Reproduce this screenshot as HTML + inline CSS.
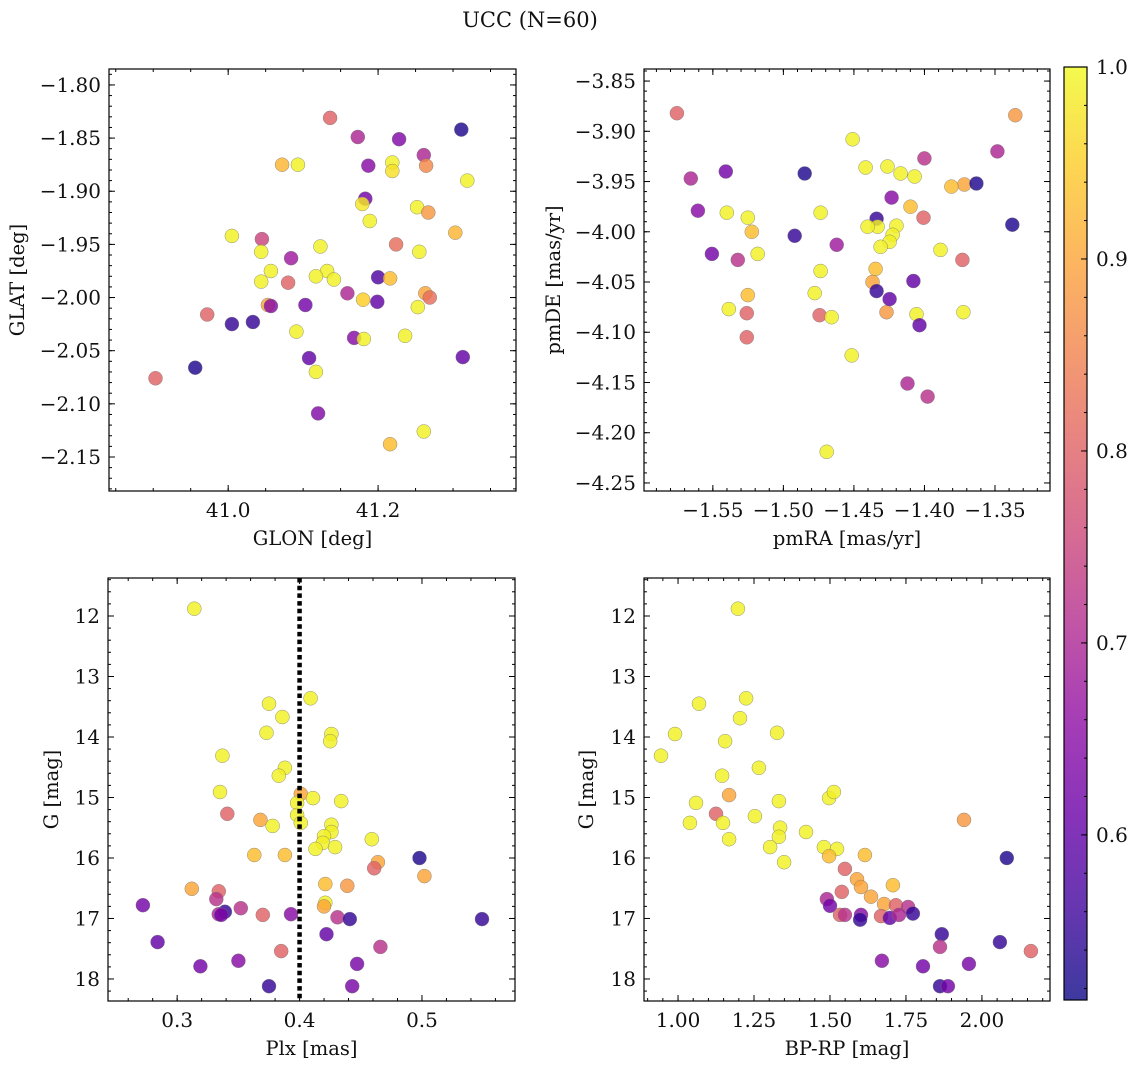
<!DOCTYPE html>
<html><head><meta charset="utf-8"><title>UCC (N=60)</title>
<style>
html,body{margin:0;padding:0;background:#fff;}
svg{display:block;font-family:"DejaVu Serif","Liberation Serif",serif;}
</style></head>
<body>
<svg id="fig" width="1136" height="1068" viewBox="0 0 1136 1068" xmlns="http://www.w3.org/2000/svg">
<defs>
<linearGradient id="plasma" x1="0" y1="1" x2="0" y2="0">
<stop offset="0" stop-color="#0d0887"/><stop offset="0.1" stop-color="#41049d"/><stop offset="0.2" stop-color="#6a00a8"/><stop offset="0.3" stop-color="#8f0da4"/><stop offset="0.4" stop-color="#b12a90"/><stop offset="0.5" stop-color="#cc4778"/><stop offset="0.6" stop-color="#e16462"/><stop offset="0.7" stop-color="#f2844b"/><stop offset="0.8" stop-color="#fca636"/><stop offset="0.9" stop-color="#fcce25"/><stop offset="1" stop-color="#f0f921"/>
</linearGradient>
</defs>
<text x="530" y="27" font-size="21" text-anchor="middle" fill="#111">UCC (N=60)</text>
</svg>
<script>
// ---- Panel 1: GLON / GLAT ----
const p1Glon = [41.136,41.173,41.311,41.228,41.072,41.093,41.187,41.219,41.219,41.261,41.264,41.319,41.183,41.179,41.252,41.267,41.189,41.005,41.045,41.123,41.224,41.303,41.255,41.044,41.084,41.057,41.132,41.117,41.141,41.044,41.080,41.200,41.216,41.159,41.263,41.269,41.053,41.057,41.103,41.180,41.199,41.253,40.972,41.005,41.033,41.091,41.168,41.181,41.236,41.108,41.313,40.956,41.117,40.903,41.120,41.216,41.261];
const p1Glat = [-1.831,-1.849,-1.842,-1.851,-1.875,-1.875,-1.876,-1.873,-1.881,-1.866,-1.876,-1.890,-1.907,-1.912,-1.915,-1.920,-1.928,-1.942,-1.945,-1.952,-1.950,-1.939,-1.957,-1.957,-1.963,-1.975,-1.975,-1.980,-1.983,-1.985,-1.986,-1.981,-1.982,-1.996,-1.996,-2.000,-2.007,-2.008,-2.007,-2.002,-2.004,-2.009,-2.016,-2.025,-2.023,-2.032,-2.038,-2.039,-2.036,-2.057,-2.056,-2.066,-2.070,-2.076,-2.109,-2.138,-2.126];
const p1Prob = [0.80,0.70,0.53,0.64,0.92,0.99,0.65,0.99,0.97,0.70,0.86,0.99,0.62,0.98,0.99,0.88,0.99,0.99,0.75,0.99,0.82,0.92,0.99,0.99,0.68,0.99,0.99,0.99,0.99,0.99,0.80,0.58,0.93,0.70,0.90,0.82,0.90,0.65,0.62,0.95,0.60,0.99,0.80,0.55,0.55,0.99,0.65,0.99,0.99,0.60,0.60,0.53,0.99,0.80,0.64,0.93,0.99];
const p1XTicks = [41.0, 41.2];
const p1XTickLabels = ["41.0","41.2"];
const p1YTicks = [-1.80,-1.85,-1.90,-1.95,-2.00,-2.05,-2.10,-2.15];
const p1YTickLabels = ["\u22121.80","\u22121.85","\u22121.90","\u22121.95","\u22122.00","\u22122.05","\u22122.10","\u22122.15"];

// ---- Panel 2: pmRA / pmDE ----
const p2Pmra = [-1.5755,-1.5656,-1.5408,-1.5606,-1.5401,-1.4849,-1.4509,-1.4736,-1.5252,-1.5224,-1.4920,-1.5323,-1.5507,-1.5182,-1.4622,-1.4417,-1.4262,-1.4169,-1.4233,-1.4000,-1.4070,-1.3717,-1.3809,-1.3632,-1.3356,-1.3483,-1.3377,-1.3886,-1.4099,-1.4007,-1.4339,-1.4332,-1.4198,-1.4226,-1.4247,-1.4311,-1.4403,-1.4346,-1.4368,-1.4339,-1.4269,-1.4247,-1.4078,-1.4056,-1.4035,-1.4120,-1.3978,-1.3724,-1.3731,-1.4778,-1.4736,-1.4743,-1.4658,-1.5387,-1.5259,-1.5252,-1.5259,-1.4516,-1.4693];
const p2Pmde = [-3.882,-3.947,-3.940,-3.979,-3.981,-3.942,-3.908,-3.981,-3.986,-4.000,-4.004,-4.028,-4.022,-4.022,-4.013,-3.936,-3.935,-3.942,-3.966,-3.927,-3.945,-3.953,-3.955,-3.952,-3.884,-3.920,-3.993,-4.018,-3.975,-3.986,-3.987,-3.995,-3.994,-4.003,-4.010,-4.015,-3.995,-4.037,-4.050,-4.059,-4.080,-4.067,-4.049,-4.082,-4.093,-4.151,-4.164,-4.080,-4.028,-4.061,-4.039,-4.083,-4.085,-4.077,-4.081,-4.063,-4.105,-4.123,-4.219];
const p2Prob = [0.80,0.70,0.62,0.65,0.99,0.53,0.99,0.99,0.99,0.93,0.55,0.72,0.62,0.99,0.68,0.99,0.99,0.99,0.65,0.72,0.99,0.90,0.93,0.53,0.88,0.70,0.53,0.99,0.93,0.80,0.55,0.99,0.99,0.99,0.99,0.99,0.99,0.93,0.90,0.55,0.88,0.60,0.60,0.99,0.60,0.70,0.72,0.99,0.80,0.99,0.99,0.80,0.99,0.99,0.80,0.93,0.80,0.99,0.99];
const p2XTicks = [-1.55,-1.50,-1.45,-1.40,-1.35];
const p2XTickLabels = ["\u22121.55","\u22121.50","\u22121.45","\u22121.40","\u22121.35"];
const p2YTicks = [-3.85,-3.90,-3.95,-4.00,-4.05,-4.10,-4.15,-4.20,-4.25];
const p2YTickLabels = ["\u22123.85","\u22123.90","\u22123.95","\u22124.00","\u22124.05","\u22124.10","\u22124.15","\u22124.20","\u22124.25"];

// ---- Panel 3: Plx / G ----
const p3Plx = [0.314,0.375,0.409,0.386,0.373,0.426,0.425,0.337,0.388,0.383,0.401,0.335,0.411,0.398,0.434,0.341,0.398,0.368,0.401,0.378,0.426,0.426,0.420,0.419,0.413,0.429,0.459,0.363,0.388,0.498,0.464,0.461,0.502,0.421,0.439,0.312,0.334,0.332,0.421,0.420,0.272,0.352,0.339,0.334,0.336,0.370,0.393,0.431,0.441,0.549,0.422,0.284,0.466,0.385,0.350,0.447,0.319,0.375,0.443];
const p3G = [11.88,13.45,13.36,13.67,13.93,13.95,14.07,14.31,14.51,14.64,14.94,14.91,15.01,15.09,15.06,15.27,15.29,15.37,15.42,15.47,15.45,15.57,15.64,15.75,15.85,15.82,15.69,15.95,15.95,16.00,16.07,16.17,16.30,16.43,16.46,16.51,16.55,16.68,16.74,16.80,16.78,16.83,16.89,16.93,16.94,16.94,16.93,16.98,17.01,17.01,17.26,17.39,17.47,17.54,17.70,17.75,17.79,18.12,18.12];
const p3Prob = [0.99,0.99,0.99,0.99,0.99,0.99,0.99,0.99,0.99,0.99,0.90,0.99,0.99,0.99,0.99,0.80,0.99,0.90,0.99,0.99,0.99,0.99,0.99,0.99,0.99,0.99,0.99,0.93,0.93,0.53,0.90,0.80,0.90,0.93,0.88,0.90,0.80,0.72,0.99,0.90,0.62,0.72,0.55,0.70,0.62,0.80,0.65,0.72,0.55,0.55,0.60,0.60,0.72,0.80,0.65,0.63,0.62,0.55,0.63];
const p3XTicks = [0.3,0.4,0.5];
const p3XTickLabels = ["0.3","0.4","0.5"];
const p3Cut = [0.4];

// ---- Panel 4: BP-RP / G ----
const p4Bprp = [1.197,1.069,1.224,1.204,0.990,1.326,1.155,0.944,1.266,1.145,1.168,1.497,1.513,1.332,1.059,1.125,1.253,1.941,1.039,1.148,1.336,1.421,1.332,1.168,1.303,1.480,1.523,1.497,1.615,1.349,2.082,1.549,1.589,1.602,1.707,1.539,1.635,1.490,1.500,1.678,1.717,1.757,1.773,1.533,1.549,1.602,1.668,1.697,1.727,1.599,1.868,1.862,2.059,2.161,1.671,1.806,1.957,1.862,1.888];
const p4G = [11.88,13.45,13.36,13.69,13.95,13.93,14.07,14.31,14.51,14.64,14.96,15.01,14.91,15.06,15.09,15.27,15.31,15.37,15.42,15.42,15.50,15.57,15.65,15.69,15.82,15.82,15.85,15.97,15.95,16.07,16.00,16.18,16.35,16.48,16.45,16.56,16.64,16.68,16.79,16.76,16.78,16.81,16.92,16.94,16.94,16.94,16.96,16.99,16.94,17.02,17.26,17.47,17.39,17.54,17.70,17.79,17.75,18.12,18.12];
const p4Prob = [0.99,0.99,0.99,0.99,0.99,0.99,0.99,0.99,0.99,0.99,0.90,0.99,0.99,0.99,0.99,0.80,0.99,0.88,0.99,0.99,0.99,0.99,0.99,0.99,0.99,0.99,0.99,0.93,0.93,0.99,0.53,0.80,0.90,0.90,0.93,0.80,0.90,0.70,0.62,0.90,0.80,0.72,0.55,0.80,0.72,0.65,0.80,0.60,0.70,0.55,0.55,0.72,0.55,0.80,0.65,0.62,0.63,0.55,0.62];
const p4XTicks = [1.00,1.25,1.50,1.75,2.00];
const p4XTickLabels = ["1.00","1.25","1.50","1.75","2.00"];

const gYTicks = [12,13,14,15,16,17,18];
const gYTickLabels = ["12","13","14","15","16","17","18"];
const cbTicks = [0.6,0.7,0.8,0.9,1.0];
const cbTickLabels = ["0.6","0.7","0.8","0.9","1.0"];
const cbMin = 0.514, cbMax = 1.0;

const NS = "http://www.w3.org/2000/svg";
const svg = document.getElementById('fig');
const stops = ["#0d0887","#41049d","#6a00a8","#8f0da4","#b12a90","#cc4778","#e16462","#f2844b","#fca636","#fcce25","#f0f921"];
function hex(h){return [parseInt(h.slice(1,3),16),parseInt(h.slice(3,5),16),parseInt(h.slice(5,7),16)];}
function plasma(v){
  let t=(v-cbMin)/(cbMax-cbMin); t=Math.max(0,Math.min(1,t));
  const f=t*10, i=Math.min(9,Math.floor(f)), r=f-i;
  const a=hex(stops[i]), b=hex(stops[i+1]);
  return "rgb("+a.map((c,k)=>Math.round(c+(b[k]-c)*r)).join(",")+")";
}
function mk(tag, attrs, parent){
  const e=document.createElementNS(NS,tag);
  for(const k in attrs) e.setAttribute(k,attrs[k]);
  (parent||svg).appendChild(e); return e;
}
function range(a,b,s){const o=[];const n=Math.round((b-a)/s);for(let i=0;i<=n;i++)o.push(a+i*s);return o;}

const TICK_FS = 20, TITLE_FS = 19.5;

function panel(cfg){
  const g=mk('g',{});
  
  
  const X=v=>cfg.x0+(v-cfg.xd[0])/(cfg.xd[1]-cfg.xd[0])*(cfg.x1-cfg.x0);
  const Y=v=>cfg.y0+(v-cfg.yd[0])/(cfg.yd[1]-cfg.yd[0])*(cfg.y1-cfg.y0);
  const pg=mk('g',{},g);
  
  
  for(let i=0;i<cfg.xs.length;i++){
    const c=mk('circle',{cx:X(cfg.xs[i]).toFixed(1),cy:Y(cfg.ys[i]).toFixed(1),r:7,fill:plasma(cfg.cs[i]),'fill-opacity':0.82,stroke:'#777','stroke-width':0.5,'stroke-opacity':0.8},pg);
    
    
  }
  if(cfg.vline){
    for(const v of cfg.vline){
      const l=mk('line',{x1:X(v),x2:X(v),y1:cfg.y0,y2:cfg.y1,stroke:'#000','stroke-width':4.5,'stroke-dasharray':'4.5,3.2'},g);
      
      
    }
  }
  const fr=mk('rect',{x:cfg.x0,y:cfg.y0,width:cfg.x1-cfg.x0,height:cfg.y1-cfg.y0,fill:'none',stroke:'#000','stroke-width':1.2},g);
  
  
  const xmin=Math.min(...cfg.xd), xmax=Math.max(...cfg.xd), ymin=Math.min(...cfg.yd), ymax=Math.max(...cfg.yd);
  const tk=mk('g',{stroke:'#000','stroke-width':1},g);
  
  
  const xm=range(Math.ceil(xmin/cfg.xmin-1e-6)*cfg.xmin,xmax,cfg.xmin).filter(v=>v>=xmin&&v<=xmax);
  for(const v of xm){const p=X(v);mk('line',{x1:p,x2:p,y1:cfg.y1,y2:cfg.y1-3},tk);mk('line',{x1:p,x2:p,y1:cfg.y0,y2:cfg.y0+3},tk);}
  const ym=range(Math.ceil(ymin/cfg.ymin-1e-6)*cfg.ymin,ymax,cfg.ymin).filter(v=>v>=ymin&&v<=ymax);
  for(const v of ym){const p=Y(v);mk('line',{y1:p,y2:p,x1:cfg.x0,x2:cfg.x0+3},tk);mk('line',{y1:p,y2:p,x1:cfg.x1,x2:cfg.x1-3},tk);}
  cfg.xt.forEach((v,i)=>{const p=X(v);mk('line',{x1:p,x2:p,y1:cfg.y1,y2:cfg.y1-6},tk);mk('line',{x1:p,x2:p,y1:cfg.y0,y2:cfg.y0+6},tk);
    const t=mk('text',{x:p,y:cfg.y1+26,'font-size':TICK_FS,'text-anchor':'middle',fill:'#111',stroke:'none'},g);t.textContent=cfg.xl[i];
    
    
  });
  cfg.yt.forEach((v,i)=>{const p=Y(v);mk('line',{y1:p,y2:p,x1:cfg.x0,x2:cfg.x0+6},tk);mk('line',{y1:p,y2:p,x1:cfg.x1,x2:cfg.x1-6},tk);
    const t=mk('text',{x:cfg.x0-8,y:p+7,'font-size':TICK_FS,'text-anchor':'end',fill:'#111',stroke:'none'},g);t.textContent=cfg.yl[i];
    
    
  });
  const xt=mk('text',{x:(cfg.x0+cfg.x1)/2,y:cfg.y1+54,'font-size':TITLE_FS,'text-anchor':'middle',fill:'#111'},g);xt.textContent=cfg.xtitle;
  
  
  const cy=(cfg.y0+cfg.y1)/2;
  const yt=mk('text',{x:cfg.ytx,y:cy,'font-size':TITLE_FS,'text-anchor':'middle',fill:'#111',transform:'rotate(-90 '+cfg.ytx+' '+cy+')'},g);yt.textContent=cfg.ytitle;
  
  
}

panel({name:'glon-glat-panel',x0:109,x1:516,y0:69,y1:491,xd:[40.841,41.384],yd:[-1.785,-2.182],xs:p1Glon,ys:p1Glat,cs:p1Prob,
  xt:p1XTicks,xl:p1XTickLabels,yt:p1YTicks,yl:p1YTickLabels,xmin:0.05,ymin:0.01,xtitle:'GLON [deg]',ytitle:'GLAT [deg]',ytx:24});
panel({name:'pm-panel',x0:644,x1:1050,y0:69,y1:491,xd:[-1.5988,-1.311],yd:[-3.838,-4.258],xs:p2Pmra,ys:p2Pmde,cs:p2Prob,
  xt:p2XTicks,xl:p2XTickLabels,yt:p2YTicks,yl:p2YTickLabels,xmin:0.01,ymin:0.01,xtitle:'pmRA [mas/yr]',ytitle:'pmDE [mas/yr]',ytx:560});
panel({name:'plx-g-panel',x0:108,x1:515,y0:578,y1:1001,xd:[0.2435,0.576],yd:[11.372,18.364],xs:p3Plx,ys:p3G,cs:p3Prob,vline:p3Cut,
  xt:p3XTicks,xl:p3XTickLabels,yt:gYTicks,yl:gYTickLabels,xmin:0.02,ymin:0.2,xtitle:'Plx [mas]',ytitle:'G [mag]',ytx:58});
panel({name:'cmd-panel',x0:644,x1:1050,y0:578,y1:1001,xd:[0.888,2.224],yd:[11.372,18.364],xs:p4Bprp,ys:p4G,cs:p4Prob,
  xt:p4XTicks,xl:p4XTickLabels,yt:gYTicks,yl:gYTickLabels,xmin:0.05,ymin:0.2,xtitle:'BP-RP [mag]',ytitle:'G [mag]',ytx:593});

// ---- Colorbar ----
(function(){
  const cx0=1064,cx1=1087,cy0=67,cy1=1000;
  const C=v=>cy1-(v-cbMin)/(cbMax-cbMin)*(cy1-cy0);
  const g=mk('g',{});
  
  
  mk('rect',{x:cx0,y:cy0,width:cx1-cx0,height:cy1-cy0,fill:'url(#plasma)','fill-opacity':0.8},g);
  mk('rect',{x:cx0,y:cy0,width:cx1-cx0,height:cy1-cy0,fill:'none',stroke:'#000','stroke-width':1.2},g);
  for(const v of range(0.52,1.0,0.02)){const p=C(v);mk('line',{x1:cx1,x2:cx1-3,y1:p,y2:p,stroke:'#000','stroke-width':1},g);}
  cbTicks.forEach((v,i)=>{const p=C(v);mk('line',{x1:cx1,x2:cx1-6,y1:p,y2:p,stroke:'#000','stroke-width':1},g);
    const t=mk('text',{x:cx1+9,y:p+7,'font-size':TICK_FS,fill:'#111'},g);t.textContent=cbTickLabels[i];
    
    
  });
})();
</script>
</body></html>
